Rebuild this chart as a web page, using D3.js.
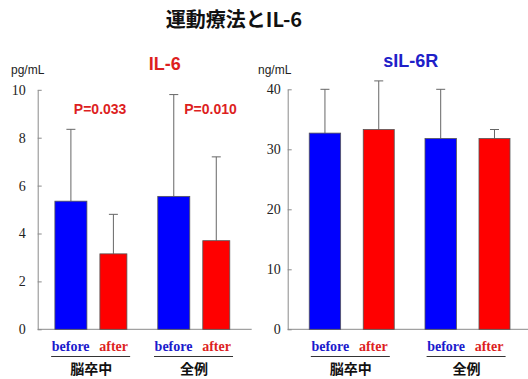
<!DOCTYPE html>
<html>
<head>
<meta charset="utf-8">
<script src="https://cdn.jsdelivr.net/npm/d3@7"></script>
<style>
  html, body { margin: 0; padding: 0; background: #fff; }
  svg { display: block; }
</style>
</head>
<body>
<svg id="chart" width="528" height="379"></svg>
<script>
// ---- data ----
const groups = ["脳卒中", "全例"];
const phases = ["before", "after"];

// IL-6 (pg/mL): mean and SD for before / after in each group
const il6Mean = [[5.35, 3.15], [5.55, 3.7]];
const il6SD   = [[3.0, 1.65], [4.25, 3.5]];
const il6Ticks = [0, 2, 4, 6, 8, 10];
const il6PValues = ["P=0.033", "P=0.010"];

// sIL-6R (ng/mL)
const sil6rMean = [[32.7, 33.3], [31.8, 31.8]];
const sil6rSD   = [[7.3, 8.1], [8.2, 1.5]];
const sil6rTicks = [0, 10, 20, 30, 40];

const phaseColor = { before: "#0000ff", after: "#ff0000" };
const phaseText = { before: "#1a1acc", after: "#dd1f1f" };

const svg = d3.select("#chart");

// main title
svg.append("text")
  .attr("x", 234).attr("y", 27)
  .attr("text-anchor", "middle")
  .attr("font-family", "'Noto Sans CJK JP', sans-serif")
  .attr("font-weight", "bold")
  .attr("font-size", 20)
  .attr("fill", "#111")
  .text("運動療法とIL-6");

function drawPanel(cfg) {
  const g = svg.append("g");

  const y = d3.scaleLinear().domain(cfg.domain).range([cfg.y0, cfg.y1]);
  const xg = d3.scalePoint().domain(groups)
    .range([cfg.xLeft, cfg.xRight]).padding(cfg.pad).align(cfg.align);
  const xp = d3.scalePoint().domain(phases).range([-cfg.half, cfg.half]);
  const xl = d3.scalePoint().domain(phases).range([-21.5, 21.5]);

  // y axis with inward ticks
  const axis = d3.axisLeft(y).tickValues(cfg.ticks)
    .tickSizeInner(-4).tickSizeOuter(0).tickPadding(cfg.tickPad);
  const ax = g.append("g").attr("transform", `translate(${cfg.xLeft},0)`).call(axis);
  ax.select(".domain").attr("stroke", "#8a8a8a");
  ax.selectAll(".tick line").attr("stroke", "#8a8a8a");
  ax.selectAll(".tick text")
    .attr("font-family", "'Liberation Serif', 'Times New Roman', serif")
    .attr("font-size", 14).attr("fill", "#222");

  // baseline
  g.append("line")
    .attr("x1", cfg.xLeft).attr("x2", cfg.xRight)
    .attr("y1", y(0)).attr("y2", y(0))
    .attr("stroke", "#8a8a8a");

  // bars + error bars
  const rows = [];
  groups.forEach((grp, gi) => phases.forEach((ph, pi) => {
    rows.push({ grp, ph, mean: cfg.mean[gi][pi], sd: cfg.sd[gi][pi] });
  }));

  const cx = d => xg(d.grp) + xp(d.ph);

  g.selectAll("line.err").data(rows).join("line")
    .attr("class", "err")
    .attr("x1", cx).attr("x2", cx)
    .attr("y1", d => y(d.mean)).attr("y2", d => y(d.mean + d.sd))
    .attr("stroke", "#666");
  g.selectAll("line.cap").data(rows).join("line")
    .attr("class", "cap")
    .attr("x1", d => cx(d) - 4.5).attr("x2", d => cx(d) + 4.5)
    .attr("y1", d => y(d.mean + d.sd)).attr("y2", d => y(d.mean + d.sd))
    .attr("stroke", "#666");

  g.selectAll("rect.bar").data(rows).join("rect")
    .attr("class", "bar")
    .attr("x", d => cx(d) - cfg.width[d.ph] / 2)
    .attr("width", d => cfg.width[d.ph])
    .attr("y", d => y(d.mean))
    .attr("height", d => y(0) - y(d.mean))
    .attr("fill", d => phaseColor[d.ph])
    .attr("stroke", "#555").attr("stroke-width", 0.8);

  // phase labels, underline and group labels
  g.selectAll("text.phase").data(rows).join("text")
    .attr("class", "phase")
    .attr("x", d => xg(d.grp) + xl(d.ph)).attr("y", 351)
    .attr("text-anchor", "middle")
    .attr("font-family", "'Liberation Serif', 'Times New Roman', serif")
    .attr("font-weight", "bold").attr("font-size", 14)
    .attr("fill", d => phaseText[d.ph])
    .text(d => d.ph);

  g.selectAll("line.under").data(groups).join("line")
    .attr("class", "under")
    .attr("x1", d => xg(d) - 41).attr("x2", d => xg(d) + 38)
    .attr("y1", 356.5).attr("y2", 356.5)
    .attr("stroke", "#333");

  g.selectAll("text.grp").data(groups).join("text")
    .attr("class", "grp")
    .attr("x", d => xg(d) - 1).attr("y", 374)
    .attr("text-anchor", "middle")
    .attr("font-family", "'Noto Sans CJK JP', sans-serif")
    .attr("font-weight", "bold").attr("font-size", 14)
    .attr("fill", "#111")
    .text(d => d);

  // unit and panel title
  g.append("text")
    .attr("x", cfg.unitX).attr("y", 74)
    .attr("font-family", "'Liberation Sans', Arial, sans-serif")
    .attr("font-size", 12).attr("fill", "#222")
    .text(cfg.unit);
  g.append("text")
    .attr("x", cfg.titleX).attr("y", cfg.titleY)
    .attr("text-anchor", "middle")
    .attr("font-family", "'Liberation Sans', Arial, sans-serif")
    .attr("font-weight", "bold").attr("font-size", 18)
    .attr("fill", cfg.titleColor)
    .text(cfg.title);

  if (cfg.pValues) {
    g.selectAll("text.pv").data(cfg.pValues).join("text")
      .attr("class", "pv")
      .attr("x", (d, i) => xg(groups[i]) + cfg.pOffset[i]).attr("y", 114)
      .attr("text-anchor", "middle")
      .attr("font-family", "'Liberation Sans', Arial, sans-serif")
      .attr("font-weight", "bold").attr("font-size", 14)
      .attr("fill", "#dd1f1f")
      .text(d => d);
  }
}

drawPanel({
  domain: [0, 10], y0: 329.3, y1: 89.8, ticks: il6Ticks, tickPad: 12,
  xLeft: 37.7, xRight: 251.7, pad: 0.54, align: 0.49, half: 21.25,
  width: { before: 32, after: 27 },
  mean: il6Mean, sd: il6SD,
  unit: "pg/mL", unitX: 11, title: "IL-6", titleX: 164.7, titleY: 70,
  titleColor: "#dd1f1f", pValues: il6PValues, pOffset: [8, 15.5]
});

drawPanel({
  domain: [0, 40], y0: 329.3, y1: 89.3, ticks: sil6rTicks, tickPad: 7,
  xLeft: 287.7, xRight: 528, pad: 0.538, align: 0.515, half: 26.9,
  width: { before: 31.4, after: 31 },
  mean: sil6rMean, sd: sil6rSD,
  unit: "ng/mL", unitX: 258, title: "sIL-6R", titleX: 410.7, titleY: 67,
  titleColor: "#2020c8"
});
</script>
</body>
</html>
